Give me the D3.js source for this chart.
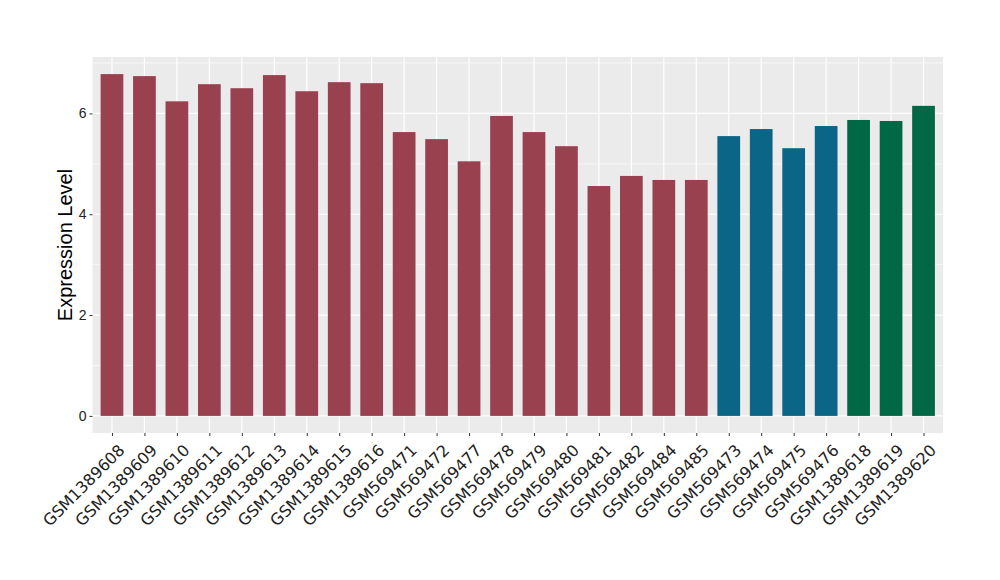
<!DOCTYPE html>
<html><head><meta charset="utf-8">
<script src="https://cdn.jsdelivr.net/npm/d3@7"></script>
<style>body{margin:0;background:#fff;} svg{display:block;}</style>
</head><body>
<svg id="chart" width="1000" height="580"></svg>
<script>
const categories = ["GSM1389608","GSM1389609","GSM1389610","GSM1389611","GSM1389612","GSM1389613","GSM1389614","GSM1389615","GSM1389616","GSM569471","GSM569472","GSM569477","GSM569478","GSM569479","GSM569480","GSM569481","GSM569482","GSM569484","GSM569485","GSM569473","GSM569474","GSM569475","GSM569476","GSM1389618","GSM1389619","GSM1389620"];
const values = [6.78,6.74,6.24,6.58,6.50,6.76,6.44,6.62,6.60,5.63,5.49,5.05,5.95,5.63,5.35,4.56,4.76,4.68,4.68,5.55,5.69,5.31,5.75,5.87,5.85,6.15];
const groups = ["A","A","A","A","A","A","A","A","A","A","A","A","A","A","A","A","A","A","A","B","B","B","B","C","C","C"];
const groupColors = {A:"#9A4150", B:"#0B6587", C:"#006845"};
const yTicks = [0,2,4,6];
const yMinor = [1,3,5,7];
const yLabel = "Expression Level";

const svg = d3.select("#chart");
const panel = {left:92.5, right:943, top:57, bottom:433};

const maxV = d3.max(values);
const y = d3.scaleLinear().domain([-0.05*maxV, 1.05*maxV]).range([panel.bottom, panel.top]);
const n = categories.length;
const step = (panel.right - panel.left) / (n - 1 + 1.2);
const x = d3.scalePoint().domain(categories).range([panel.left + 0.6*step, panel.right - 0.6*step]);
const barW = step * 0.7;

svg.append("rect").attr("x", panel.left).attr("y", panel.top)
  .attr("width", panel.right - panel.left).attr("height", panel.bottom - panel.top)
  .attr("fill", "#EBEBEB");

// minor grid
svg.append("g").selectAll("line").data(yMinor).join("line")
  .attr("x1", panel.left).attr("x2", panel.right)
  .attr("y1", d => y(d)).attr("y2", d => y(d))
  .attr("stroke", "#fff").attr("stroke-width", 0.6);
// major grid
svg.append("g").selectAll("line").data(yTicks).join("line")
  .attr("x1", panel.left).attr("x2", panel.right)
  .attr("y1", d => y(d)).attr("y2", d => y(d))
  .attr("stroke", "#fff").attr("stroke-width", 1.2);
svg.append("g").selectAll("line").data(categories).join("line")
  .attr("x1", d => x(d)).attr("x2", d => x(d))
  .attr("y1", panel.top).attr("y2", panel.bottom)
  .attr("stroke", "#fff").attr("stroke-width", 1.2);

// bars
svg.append("g").selectAll("rect").data(categories).join("rect")
  .attr("x", d => x(d) - barW/2)
  .attr("width", barW)
  .attr("y", (d,i) => y(values[i]))
  .attr("height", (d,i) => y(0) - y(values[i]))
  .attr("fill", (d,i) => groupColors[groups[i]]);

// y axis
const yAxis = d3.axisLeft(y).tickValues(yTicks).tickSize(3).tickPadding(3).tickFormat(d3.format("d"));
const gy = svg.append("g").attr("transform", `translate(${panel.left},0)`).call(yAxis);
gy.select(".domain").remove();
gy.selectAll(".tick line").attr("stroke", "#333");
gy.selectAll(".tick text").attr("fill", "#222").style("font-family", "Liberation Sans, Arial, sans-serif").style("font-size", "14px");

// x axis
const xAxis = d3.axisBottom(x).tickSize(3).tickPadding(2);
const gx = svg.append("g").attr("transform", `translate(0,${panel.bottom})`).call(xAxis);
gx.select(".domain").remove();
gx.selectAll(".tick line").attr("stroke", "#333");
gx.selectAll(".tick text")
  .attr("fill", "#222")
  .style("font-family", "DejaVu Sans, sans-serif").style("font-size", "16px")
  .attr("text-anchor", "end")
  .attr("y", 0).attr("dy", "0.73em")
  .attr("transform", "translate(5,10) rotate(-45)");

// y label
svg.append("text")
  .attr("transform", `translate(72,${(panel.top+panel.bottom)/2}) rotate(-90)`)
  .attr("text-anchor", "middle")
  .style("font-family", "Liberation Sans, Arial, sans-serif").style("font-size", "20px")
  .attr("fill", "#000")
  .text(yLabel);
</script>
</body></html>
